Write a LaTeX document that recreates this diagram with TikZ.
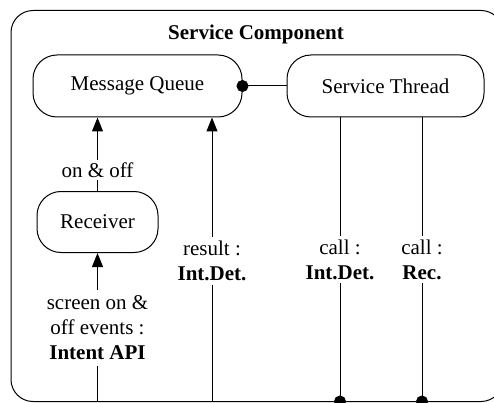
\documentclass[tikz,border=0pt]{standalone}
\usepackage{fontspec}
\setmainfont{Liberation Serif}
\usepackage{tikz}
\usetikzlibrary{arrows.meta}

\tikzset{
  boxnode/.style={minimum height=62pt, fill=white, draw, line width=1.0pt, rounded corners=24pt, align=center, font=\fontsize{21}{25}\selectfont, shape=rectangle},
  lblnode/.style={fill=white, align=center, inner sep=3pt, font=\fontsize{21}{25}\selectfont},
  flowline/.style={-{Triangle[length=14pt,width=11pt]}, line width=1.0pt, draw},
  callline/.style={-{Circle[length=12pt]}, shorten >=-6pt, line width=1.0pt, draw},
}

\begin{document}
\begin{tikzpicture}[inner sep=0pt]
\useasboundingbox (0pt,0pt) rectangle (494pt,-403pt);
\clip (0pt,0pt) rectangle (494pt,-403pt);
\node (nComp) [minimum width=492pt, minimum height=391pt, at={(257pt,-206pt)}, draw, line width=1.0pt, rounded corners=22pt, shape=rectangle] {};
\node (nTitle) [at={(256pt,-34pt)}, font=\fontsize{21}{25}\selectfont\bfseries] {Service Component};
\node (nQueue) [boxnode, minimum width=209pt, at={(137.5pt,-86pt)}] {Message Queue};
\node (nThread) [boxnode, minimum width=197pt, at={(385.5pt,-86pt)}] {Service Thread};
\node (nRecv) [boxnode, minimum width=121pt, minimum height=61pt, at={(97.5pt,-222pt)}] {Receiver};

\coordinate (cScreen) at (97.5pt,-402pt);
\coordinate (cResult) at (212pt,-402pt);
\coordinate (cCallDet) at (340pt,-401.5pt);
\coordinate (cCallRec) at (422pt,-401.5pt);


\path [{Circle[length=12pt]}-, shorten <=-6pt, line width=1.0pt, draw] (nQueue) -- (nThread);


\path [flowline] (nRecv) -- (nRecv |- nQueue.south);


\path [flowline] (cScreen) -- (nRecv);


\path [flowline] (cResult) -- (cResult |- nQueue.south);


\path [callline] (cCallDet |- nThread.south) -- (cCallDet);


\path [callline] (cCallRec |- nThread.south) -- (cCallRec);

\node (lOnOff) [lblnode, at={(97.5pt,-170pt)}] {on \& off};
\node (lScreen) [lblnode, inner sep=6pt, at={(97.5pt,-328pt)}] {screen on \&\\off events :\\\textbf{Intent API}};
\node (lResult) [lblnode, inner sep=4pt, at={(212pt,-261pt)}] {result :\\\textbf{Int.Det.}};
\node (lCallDet) [lblnode, inner sep=4pt, at={(340pt,-259.5pt)}] {call :\\\textbf{Int.Det.}};
\node (lCallRec) [lblnode, inner sep=4pt, at={(422pt,-259.5pt)}] {call :\\\textbf{Rec.}};
\end{tikzpicture}
\end{document}
